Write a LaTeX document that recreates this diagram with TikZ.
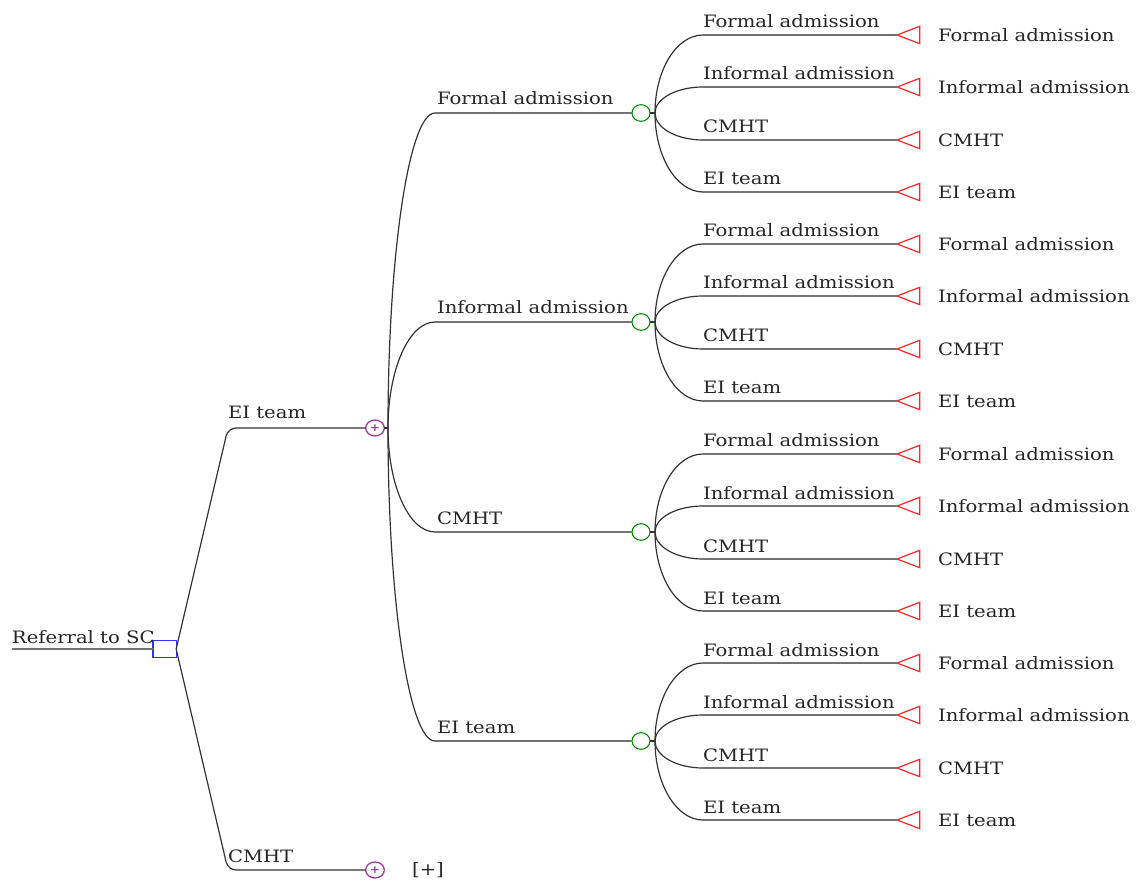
\documentclass[tikz,border=0pt]{standalone}
\usepackage{fontspec}
\setmainfont[FakeStretch=1.15]{DejaVu Serif}
\usetikzlibrary{shapes.geometric,calc}
\begin{document}
\begin{tikzpicture}[x=0.75pt,y=-0.75pt,
  every node/.style={inner sep=0pt,outer sep=0pt},
  lbl/.style={font=\fontsize{12.8}{15}\selectfont,anchor=base west,text=black!85},
  rlbl/.style={font=\fontsize{12.8}{15}\selectfont,anchor=west,text=black!85},
  edge/.style={draw=black!80,line width=0.9pt},
  hline/.style={draw=black!55,line width=1.3pt},
  decision/.style={draw=blue!80!white,line width=1pt,rectangle,minimum width=17.5pt,minimum height=12.5pt},
  chance/.style={draw=green!55!black,line width=0.8pt,ellipse,minimum width=13.5pt,minimum height=12.5pt},
  collapsed/.style={draw=violet!75!white,line width=1pt,ellipse,minimum width=14pt,minimum height=12pt,font=\fontsize{8}{8}\selectfont\bfseries,text=violet!75!white},
  terminal/.style={draw=red!85!white,line width=0.9pt,isosceles triangle,isosceles triangle stretches=true,shape border rotate=180,minimum height=17pt,minimum width=13pt,anchor=apex}
]
\useasboundingbox (0,0) rectangle (1140,884);

% root
\coordinate (start) at (12,649);
\node[decision] (root) at (164.5,649) {};
\node[lbl] (lroot) at (12,643) {Referral to SC};
\draw[hline] (start) -- (root.west);

% first level
\node[collapsed] (cEI) at (375,428) {+};
\node[collapsed] (cCM) at (375,870) {+};
\node[font=\fontsize{12.8}{15}\selectfont,text=black!85] (plus) at (428,870) {[+]};
\coordinate (bEI) at (228,428);
\coordinate (bCM) at (228,870);
\draw[edge,rounded corners=6pt] (root.east) -- (bEI) -- (cEI.west);
\draw[edge,rounded corners=6pt] (root.east) -- (bCM) -- (cCM.west);
\node[lbl] (lEI) at (228,419) {EI team};
\node[lbl] (lCM) at (228,862) {CMHT};
\coordinate (k) at (388,428);
\draw[edge] (cEI.east) -- (k);

% second level chance nodes
\foreach \i/\y/\t in {1/113/Formal admission,2/322/Informal admission,3/532/CMHT,4/741/EI team}{
  \node[chance] (g\i) at (641,\y) {};
  \coordinate (s\i) at (435,\y);
  \coordinate (h\i) at (655,\y);
  \draw[edge] (k) .. controls ($(k)!0.552!(k|-s\i)$) and (409,\y) .. (s\i);
  \draw[hline] (s\i) -- (g\i.west);
  \draw[edge] (g\i.east) -- (h\i);
  \node[lbl] (l\i) at (437,\y-8) {\t};
  \foreach \j/\d/\u in {1/-78/Formal admission,2/-26/Informal admission,3/27/CMHT,4/79/EI team}{
    \node[terminal] (t\i\j) at (897,\y+\d) {};
    \coordinate (e\i\j) at (703,\y+\d);
    \draw[edge] (h\i) .. controls ($(h\i)!0.552!(h\i|-e\i\j)$) and (676.5,\y+\d) .. (e\i\j);
    \draw[hline] (e\i\j) -- (t\i\j.apex);
    \node[lbl] (m\i\j) at (703,\y+\d-7) {\u};
    \node[rlbl] (r\i\j) at (938,\y+\d) {\u};
  }
}
\end{tikzpicture}
\end{document}
